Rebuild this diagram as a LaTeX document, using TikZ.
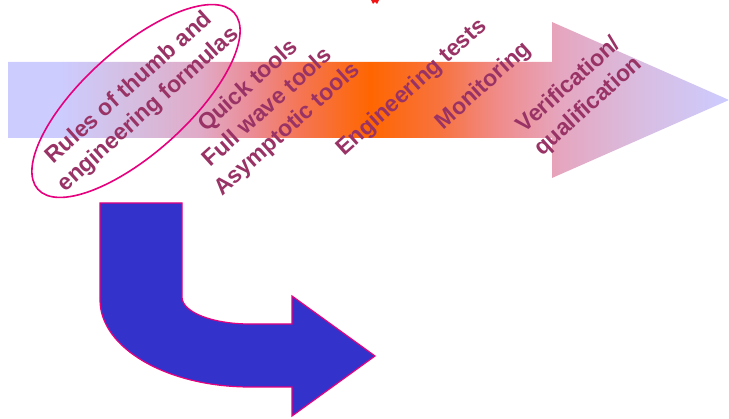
\documentclass[tikz,border=0pt]{standalone}
\usepackage{fontspec}
\setmainfont{Liberation Sans}
\usetikzlibrary{shapes.geometric}

\definecolor{labeltext}{RGB}{153,51,102}
\definecolor{ringpink}{RGB}{230,0,126}
\definecolor{bentblue}{RGB}{51,51,204}
\definecolor{markred}{RGB}{240,20,20}

% lavender -> orange -> lavender band along the process arrow
\pgfdeclarehorizontalshading{stageband}{100bp}{%
  rgb(0bp)=(0.8,0.8,1);
  rgb(25bp)=(0.8,0.8,1);
  rgb(28.6bp)=(0.8,0.8,1);
  rgb(33.5bp)=(0.835,0.745,0.88);
  rgb(38.3bp)=(0.88,0.67,0.78);
  rgb(41.8bp)=(0.92,0.55,0.59);
  rgb(45.25bp)=(0.96,0.46,0.33);
  rgb(50.1bp)=(1,0.4,0);
  rgb(55bp)=(0.97,0.45,0.25);
  rgb(59.1bp)=(0.94,0.55,0.55);
  rgb(63.3bp)=(0.9,0.65,0.75);
  rgb(68.8bp)=(0.85,0.74,0.88);
  rgb(75bp)=(0.8,0.8,1);
  rgb(100bp)=(0.8,0.8,1)}

\tikzset{
  stagelabel/.style={text=labeltext, font=\bfseries\fontsize{23}{29}\selectfont,
    align=center, rotate=42, inner sep=0pt},
  ringstyle/.style={draw=ringpink, line width=1.6pt, ellipse, inner sep=0pt,
    minimum width=264pt, minimum height=104pt, rotate=42},
  bentstyle/.style={draw=ringpink, line width=1.2pt, fill=bentblue, line join=miter}
}

\begin{document}
\begin{tikzpicture}[x=1pt,y=-1pt]
  \useasboundingbox (0,0) rectangle (729,419);

  % main process arrow
  \shade[shading=stageband] (8,62) -- (552,62) -- (552,22) -- (729,100)
    -- (552,178) -- (552,138) -- (8,138) -- cycle;

  % small red fragment at the top edge
  \fill[markred] (371,0) -- (373,4) -- (375,2) -- (377,4) -- (379,0) -- cycle;

  % stage labels
  \node[stagelabel] (rules) at (139,99) {Rules of thumb and\\engineering formulas};
  \node[stagelabel] (tools) at (268,108) {Quick tools\\Full wave tools\\Asymptotic tools};
  \node[stagelabel] (tests) at (412,88) {Engineering tests};
  \node[stagelabel] (monitor) at (484,86) {Monitoring};
  \node[stagelabel] (verify) at (579,96) {Verification/\\qualification};

  % ring round the first stage
  \node[ringstyle] (ring) at (136,101) {};

  % bent arrow below the first stage
  \draw[bentstyle] (100,203) -- (182,203) -- (182,297)
    .. controls (182,312) and (212,324) .. (250,324) -- (292,324) -- (292,296)
    -- (375,356) -- (292,416) -- (292,387) -- (250,387)
    .. controls (167,387) and (100,348) .. (100,300) -- cycle;
\end{tikzpicture}
\end{document}
